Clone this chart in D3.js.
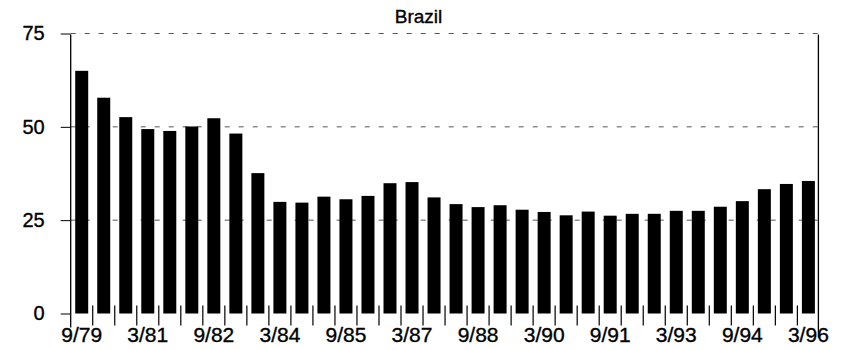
<!DOCTYPE html>
<html>
<head>
<meta charset="utf-8">
<script src="https://cdn.jsdelivr.net/npm/d3@7"></script>
<style>
  html, body { margin: 0; padding: 0; background: #fff; }
  svg { display: block; }
  text { font-family: "Liberation Sans", Arial, Helvetica, sans-serif; fill: #000; stroke: #000; stroke-width: 0.35px; }
</style>
</head>
<body>
<svg id="chart" width="849" height="350"></svg>
<script>
// Semiannual observation dates (month/year)
const periods = [
  "9/79", "3/80", "9/80", "3/81", "9/81", "3/82", "9/82", "3/83", "9/83",
  "3/84", "9/84", "3/85", "9/85", "3/86", "9/86", "3/87", "9/87", "3/88",
  "9/88", "3/89", "9/89", "3/90", "9/90", "3/91", "9/91", "3/92", "9/92",
  "3/93", "9/93", "3/94", "9/94", "3/95", "9/95", "3/96"
];

const values = [
  65.0, 57.8, 52.6, 49.4, 48.9, 50.1, 52.3, 48.2, 37.6,
  29.9, 29.7, 31.3, 30.6, 31.5, 34.9, 35.2, 31.1, 29.3,
  28.5, 29.0, 27.8, 27.2, 26.3, 27.3, 26.2, 26.7, 26.7,
  27.5, 27.5, 28.6, 30.1, 33.3, 34.7, 35.5
];

const xTickLabels = ["9/79", "3/81", "9/82", "3/84", "9/85", "3/87",
                     "9/88", "3/90", "9/91", "3/93", "9/94", "3/96"];
const yTicks = [0, 25, 50, 75];
const gridValues = [25, 50, 75];
const title = "Brazil";

const svg = d3.select("#chart");
const plotLeft = 70.7, plotRight = 819.4, plotTop = 33.5, plotBottom = 313.5;

const x = d3.scaleBand()
  .domain(periods)
  .range([plotLeft, plotRight])
  .paddingInner(0.41)
  .paddingOuter(0.205);

const y = d3.scaleLinear().domain([0, 75]).range([plotBottom, plotTop]);

// Dashed horizontal reference lines
svg.append("g")
  .selectAll("line")
  .data(gridValues)
  .join("line")
  .attr("x1", plotLeft)
  .attr("x2", plotRight)
  .attr("y1", d => y(d))
  .attr("y2", d => y(d))
  .attr("stroke", "#555")
  .attr("stroke-width", 1)
  .attr("stroke-dasharray", "5,9");

// Bars
svg.append("g")
  .selectAll("rect")
  .data(values)
  .join("rect")
  .attr("x", (d, i) => x(periods[i]))
  .attr("y", d => y(d))
  .attr("width", x.bandwidth())
  .attr("height", d => y(0) - y(d))
  .attr("fill", "#000");

// Tick marks between bars along the category axis
const step = x.step();
const boundaries = d3.range(1, periods.length);
svg.append("g")
  .selectAll("line")
  .data(boundaries)
  .join("line")
  .attr("x1", k => plotLeft + k * step)
  .attr("x2", k => plotLeft + k * step)
  .attr("y1", plotBottom - 8)
  .attr("y2", plotBottom + 12)
  .attr("stroke", "#000")
  .attr("stroke-width", 1.2);

// Left and right frame lines
svg.append("line")
  .attr("x1", plotLeft).attr("x2", plotLeft)
  .attr("y1", plotTop + 1).attr("y2", plotBottom + 14)
  .attr("stroke", "#000").attr("stroke-width", 1.3);
svg.append("line")
  .attr("x1", plotRight - 1).attr("x2", plotRight - 1)
  .attr("y1", plotTop + 1).attr("y2", plotBottom + 24)
  .attr("stroke", "#000").attr("stroke-width", 1.3);

// Value axis
const yAxis = d3.axisLeft(y)
  .tickValues(yTicks)
  .tickSize(10)
  .tickPadding(16)
  .tickFormat(d3.format("d"));
const yg = svg.append("g")
  .attr("transform", `translate(${plotLeft},0)`)
  .call(yAxis);
yg.select(".domain").remove();
yg.selectAll(".tick line").attr("stroke", "#000").attr("stroke-width", 1);
yg.selectAll(".tick text")
  .style("font-size", "20px")
  .attr("fill", "#000");

// Category labels
svg.append("g")
  .selectAll("text")
  .data(xTickLabels)
  .join("text")
  .attr("x", d => x(d) + x.bandwidth() / 2)
  .attr("y", 342)
  .attr("text-anchor", "middle")
  .style("font-size", "21px")
  .text(d => d);

// Title
svg.append("text")
  .attr("x", 418.5)
  .attr("y", 22.5)
  .attr("text-anchor", "middle")
  .style("font-size", "19px")
  .text(title);
</script>
</body>
</html>
